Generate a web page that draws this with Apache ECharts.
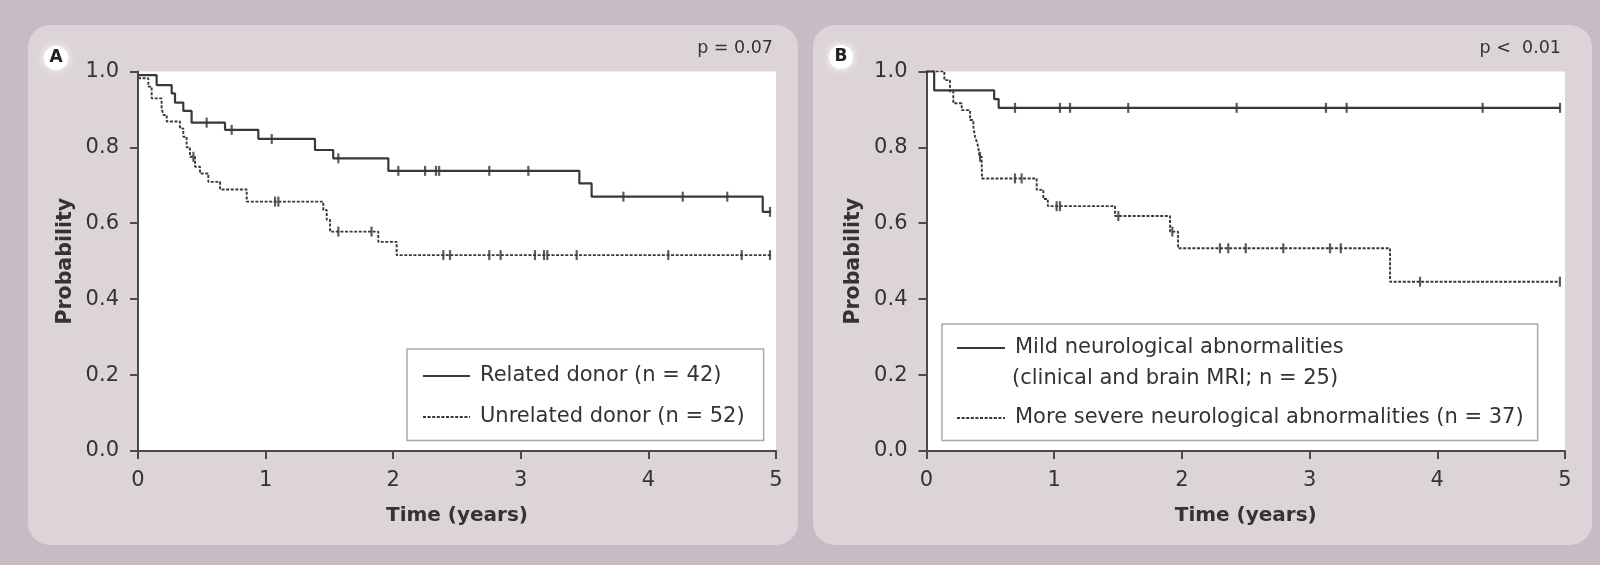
<!DOCTYPE html>
<html><head><meta charset="utf-8">
<script src="https://cdn.jsdelivr.net/npm/echarts@6/dist/echarts.min.js"></script>
<style>html,body{margin:0;padding:0;background:#e8e1e5;} #c{width:1600px;height:565px;}</style>
</head><body><div id="c"></div>
<script>
// ---------- Panel A: donor type ----------
const relatedName = 'Related donor (n = 42)';
const relatedTimes = [0, 0.146, 0.264, 0.29, 0.355, 0.42, 0.682, 0.943, 1.387, 1.53, 1.962, 3.459, 3.555, 4.896, 4.96];
const relatedProb  = [0.99, 0.964, 0.942, 0.918, 0.896, 0.865, 0.846, 0.822, 0.793, 0.771, 0.738, 0.705, 0.67, 0.63, 0.63];
const relatedCensor = [0.538, 0.734, 1.048, 1.57, 2.04, 2.25, 2.335, 2.36, 2.753, 3.059, 3.804, 4.269, 4.618, 4.953];

const unrelatedName = 'Unrelated donor (n = 52)';
const unrelatedTimes = [0, 0.081, 0.107, 0.185, 0.199, 0.225, 0.329, 0.355, 0.381, 0.407, 0.447, 0.486, 0.551, 0.643, 0.852, 1.452, 1.479, 1.505, 1.883, 2.027, 4.96];
const unrelatedProb  = [0.982, 0.96, 0.929, 0.903, 0.885, 0.868, 0.85, 0.828, 0.80, 0.775, 0.749, 0.731, 0.709, 0.689, 0.657, 0.635, 0.609, 0.578, 0.551, 0.516, 0.516];
const unrelatedCensor = [0.434, 1.074, 1.1, 1.57, 1.83, 2.393, 2.445, 2.753, 2.842, 3.111, 3.182, 3.208, 3.438, 4.156, 4.731, 4.953];

// ---------- Panel B: neurological status ----------
const mildName = 'Mild neurological abnormalities';
const mildNote = '(clinical and brain MRI; n = 25)';
const mildTimes = [0, 0.06, 0.53, 0.565, 4.96];
const mildProb  = [1.0, 0.95, 0.927, 0.904, 0.904];
const mildCensor = [0.693, 1.045, 1.124, 1.58, 2.429, 3.128, 3.29, 4.355, 4.961];

const severeName = 'More severe neurological abnormalities (n = 37)';
const severeTimes = [0, 0.14, 0.184, 0.21, 0.276, 0.341, 0.367, 0.38, 0.393, 0.406, 0.415, 0.432, 0.435, 0.863, 0.915, 0.95, 1.476, 1.907, 1.97, 3.63, 4.96];
const severeProb  = [1.0, 0.977, 0.947, 0.916, 0.898, 0.872, 0.854, 0.828, 0.815, 0.80, 0.775, 0.758, 0.718, 0.688, 0.664, 0.645, 0.619, 0.578, 0.534, 0.446, 0.446];
const severeCensor = [0.419, 0.693, 0.745, 1.019, 1.045, 1.502, 1.925, 2.298, 2.363, 2.5, 2.794, 3.16, 3.244, 3.865, 4.96];

const pValues = ['p = 0.07', 'p <  0.01'];
const panelLetters = ['A', 'B'];
const xAxisTitle = 'Time (years)';
const yAxisTitle = 'Probability';

// ---------- helpers ----------
function pairs(ts, ps) { return ts.map((t, i) => [t, ps[i]]); }
function stepAt(ts, ps, t) { let v = ps[0]; for (let i = 0; i < ts.length; i++) { if (ts[i] <= t) v = ps[i]; } return v; }
function censorPts(cs, ts, ps) { return cs.map(c => [c, stepAt(ts, ps, c)]); }

const FONT = 'DejaVu Sans';
const TXT = '#333333';
const LINE = '#383838';

function xAxisFor(gi) {
  return {
    gridIndex: gi, type: 'value', min: 0, max: 5, interval: 1,
    name: xAxisTitle, nameLocation: 'middle', nameGap: 55,
    nameTextStyle: { fontFamily: FONT, fontWeight: 'bold', fontSize: 20, color: TXT },
    axisLine: { onZero: false, lineStyle: { color: '#4a4a4a', width: 2 } },
    axisTick: { length: 8, lineStyle: { color: '#4a4a4a', width: 2 } },
    axisLabel: { margin: 19, fontFamily: FONT, fontSize: 21, color: TXT },
    splitLine: { show: false }
  };
}
function yAxisFor(gi) {
  return {
    gridIndex: gi, type: 'value', min: 0, max: 1, interval: 0.2,
    name: yAxisTitle, nameLocation: 'middle', nameGap: 62,
    nameTextStyle: { fontFamily: FONT, fontWeight: 'bold', fontSize: 20.5, color: TXT },
    axisLine: { lineStyle: { color: '#4a4a4a', width: 2 } },
    axisTick: { length: 8, lineStyle: { color: '#4a4a4a', width: 2 } },
    axisLabel: { margin: 19, fontFamily: FONT, fontSize: 21, color: TXT, formatter: v => v.toFixed(1) },
    splitLine: { show: false }
  };
}
const solidStyle = { color: LINE, width: 2.2, type: 'solid' };
const dashStyle = { color: LINE, width: 1.9, type: [3, 1.6] };

function kmSeries(name, gi, ts, ps, style) {
  return { name, type: 'line', xAxisIndex: gi, yAxisIndex: gi, step: 'end', symbol: 'none',
    data: pairs(ts, ps), lineStyle: style, itemStyle: { color: LINE }, silent: true, animation: false };
}
function censorSeries(gi, cs, ts, ps) {
  return { name: 'censor', type: 'scatter', xAxisIndex: gi, yAxisIndex: gi, symbol: 'rect', symbolSize: [2.2, 10],
    data: censorPts(cs, ts, ps), itemStyle: { color: '#333' }, silent: true, animation: false };
}

const legendText = { fontFamily: FONT, fontSize: 21, color: TXT, padding: [0, 0, 0, 5] };
const hiddenSymbol = { color: 'rgba(0,0,0,0)', borderColor: 'rgba(0,0,0,0)', borderWidth: 0, opacity: 0 };

const chart = echarts.init(document.getElementById('c'), null, { renderer: 'canvas' });
chart.setOption({
  backgroundColor: '#c8bbc3',
  animation: false,
  grid: [
    { left: 138, right: 1600 - 776, top: 71.4, bottom: 565 - 451, show: true, backgroundColor: '#ffffff', borderWidth: 0 },
    { left: 926.5, right: 1600 - 1565, top: 71.4, bottom: 565 - 451, show: true, backgroundColor: '#ffffff', borderWidth: 0 }
  ],
  xAxis: [xAxisFor(0), xAxisFor(1)],
  yAxis: [yAxisFor(0), yAxisFor(1)],
  legend: [
    { orient: 'vertical', left: 407, top: 349, itemWidth: 47, itemHeight: 14, itemGap: 20,
      padding: [16.5, 19, 13, 15], backgroundColor: '#ffffff', borderColor: '#a9a9a9', borderWidth: 1.5,
      textStyle: legendText, itemStyle: hiddenSymbol, selectedMode: false,
      data: [relatedName, unrelatedName] },
    { orient: 'vertical', left: 942, top: 324, itemWidth: 48, itemHeight: 14, itemGap: 49,
      padding: [13.5, 14, 12, 14], backgroundColor: '#ffffff', borderColor: '#a9a9a9', borderWidth: 1.5,
      textStyle: legendText, itemStyle: hiddenSymbol, selectedMode: false,
      data: [mildName, severeName] }
  ],
  graphic: [
    { type: 'rect', z: -20, silent: true, shape: { x: 8, y: 5, width: 1592, height: 560 }, style: { fill: '#c8bbc3' } },
    { type: 'rect', z: -10, silent: true, shape: { x: 28, y: 25, width: 770, height: 520, r: 22 }, style: { fill: '#ddd4da' } },
    { type: 'rect', z: -10, silent: true, shape: { x: 813, y: 25, width: 779, height: 520, r: 22 }, style: { fill: '#ddd4da' } },
    { type: 'circle', z: 10, silent: true, shape: { cx: 56, cy: 58, r: 12 }, style: { fill: '#ffffff', shadowBlur: 8, shadowColor: '#ffffff' } },
    { type: 'circle', z: 10, silent: true, shape: { cx: 841, cy: 57, r: 12 }, style: { fill: '#ffffff', shadowBlur: 8, shadowColor: '#ffffff' } },
    { type: 'text', z: 11, silent: true, x: 56, y: 58, style: { text: panelLetters[0], fontFamily: FONT, fontWeight: 'bold', fontSize: 17, fill: '#222', align: 'center', verticalAlign: 'middle' } },
    { type: 'text', z: 11, silent: true, x: 841, y: 57, style: { text: panelLetters[1], fontFamily: FONT, fontWeight: 'bold', fontSize: 17, fill: '#222', align: 'center', verticalAlign: 'middle' } },
    { type: 'text', z: 11, silent: true, x: 773, y: 48, style: { text: pValues[0], fontFamily: FONT, fontSize: 17.5, fill: TXT, align: 'right', verticalAlign: 'middle' } },
    { type: 'text', z: 11, silent: true, x: 1561, y: 48, style: { text: pValues[1], fontFamily: FONT, fontSize: 17.5, fill: TXT, align: 'right', verticalAlign: 'middle' } },
    { type: 'text', z: 100, silent: true, x: 1012, y: 378.5, style: { text: mildNote, fontFamily: FONT, fontSize: 21, fill: TXT, align: 'left', verticalAlign: 'middle' } }
  ],
  series: [
    kmSeries(relatedName, 0, relatedTimes, relatedProb, solidStyle),
    kmSeries(unrelatedName, 0, unrelatedTimes, unrelatedProb, dashStyle),
    censorSeries(0, relatedCensor, relatedTimes, relatedProb),
    censorSeries(0, unrelatedCensor, unrelatedTimes, unrelatedProb),
    kmSeries(mildName, 1, mildTimes, mildProb, solidStyle),
    kmSeries(severeName, 1, severeTimes, severeProb, dashStyle),
    censorSeries(1, mildCensor, mildTimes, mildProb),
    censorSeries(1, severeCensor, severeTimes, severeProb)
  ]
});
</script>
</body></html>
